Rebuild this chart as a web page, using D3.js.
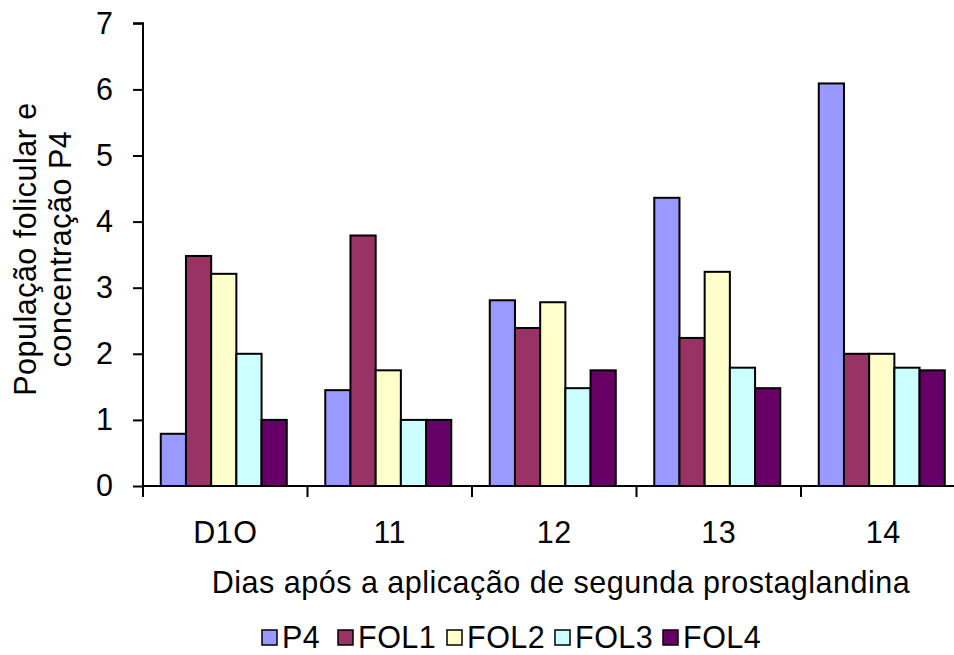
<!DOCTYPE html>
<html><head><meta charset="utf-8">
<script src="https://cdn.jsdelivr.net/npm/d3@7"></script>
<style>body{margin:0;background:#fff}svg{display:block;font-family:"Liberation Sans",Arial,sans-serif}</style>
</head><body><svg id="c" width="954" height="655"></svg>
<script>
const categories = ["D1O","11","12","13","14"];
const seriesNames = ["P4","FOL1","FOL2","FOL3","FOL4"];
const P4   = [0.79, 1.45, 2.81, 4.36, 6.09];
const FOL1 = [3.48, 3.79, 2.39, 2.24, 2.00];
const FOL2 = [3.21, 1.75, 2.78, 3.24, 2.00];
const FOL3 = [2.00, 1.00, 1.48, 1.79, 1.79];
const FOL4 = [1.00, 1.00, 1.75, 1.48, 1.75];
const yTicks = [0,1,2,3,4,5,6,7];
const colors = ["#9999FF","#993366","#FFFFCC","#CCFFFF","#660066"];
const values = [P4, FOL1, FOL2, FOL3, FOL4];

const svg = d3.select("#c");
const mLeft = 143, mRight = 965.5, mTop = 23.3, mBottom = 486;
const fs = 30.5;
const ls = 0.5;

const x0 = d3.scaleBand().domain(categories).range([mLeft, mRight]).padding(0);
const bw = x0.bandwidth();
const x1 = d3.scaleBand().domain(seriesNames).range([bw*0.108, bw*0.874]).padding(0);
const y = d3.scaleLinear().domain([0,7]).range([mBottom, mTop]);

const color = d3.scaleOrdinal().domain(seriesNames).range(colors);

// bars
const g = svg.append("g");
categories.forEach((c, ci) => {
  seriesNames.forEach((s, si) => {
    const v = values[si][ci];
    g.append("rect")
      .attr("x", x0(c) + x1(s))
      .attr("y", y(v))
      .attr("width", x1.bandwidth())
      .attr("height", y(0) - y(v))
      .attr("fill", color(s))
      .attr("stroke", "#000")
      .attr("stroke-width", 2);
  });
});

// y axis
const yAxis = d3.axisLeft(y).tickValues(yTicks).tickSize(10).tickPadding(20).tickFormat(d3.format("d"));
const ya = svg.append("g").attr("transform", `translate(${mLeft},0)`).call(yAxis);
ya.select(".domain").attr("stroke","#000").attr("stroke-width",2).attr("d", `M-10,${mTop}H0V${mBottom}`);
ya.selectAll(".tick line").attr("stroke","#000").attr("stroke-width",2);
ya.selectAll(".tick text").attr("font-size", fs).attr("fill","#000").attr("font-family","Liberation Sans, Arial, sans-serif");

// x axis
const xAxis = d3.axisBottom(x0).tickSize(0).tickPadding(0);
const xa = svg.append("g").attr("transform", `translate(0,${mBottom})`).call(xAxis);
xa.select(".domain").attr("stroke","#000").attr("stroke-width",2).attr("d", `M${mLeft},0H${mRight}`);
xa.selectAll(".tick text").attr("font-size", fs).attr("fill","#000").attr("dy", null).attr("y", 57)
  .attr("letter-spacing", ls).attr("font-family","Liberation Sans, Arial, sans-serif");
const sepTicks = categories.map(c => x0(c)).concat([mRight]);
xa.selectAll(".sep").data(sepTicks).enter().append("line")
  .attr("x1", d => d).attr("x2", d => d).attr("y1", 0).attr("y2", 11)
  .attr("stroke","#000").attr("stroke-width",2);

// x title
svg.append("text").attr("x", 561).attr("y", 593).attr("text-anchor","middle")
  .attr("font-size", fs).attr("letter-spacing", ls).text("Dias após a aplicação de segunda prostaglandina");

// y title
const yt = svg.append("text").attr("transform","translate(0,249) rotate(-90)").attr("text-anchor","middle")
  .attr("font-size", fs).attr("letter-spacing", ls);
yt.append("tspan").attr("x",0).attr("y",36).text("População folicular e");
yt.append("tspan").attr("x",0).attr("y",71).text("concentração P4");

// legend
const legX = [262, 338, 447, 555, 663];
const lg = svg.append("g");
seriesNames.forEach((s, i) => {
  lg.append("rect").attr("x", legX[i]).attr("y", 630).attr("width", 15).attr("height", 15)
    .attr("fill", color(s)).attr("stroke","#000").attr("stroke-width",1.5);
  lg.append("text").attr("x", legX[i] + 20).attr("y", 648).attr("font-size", fs)
    .attr("letter-spacing", ls).text(s);
});
</script></body></html>
